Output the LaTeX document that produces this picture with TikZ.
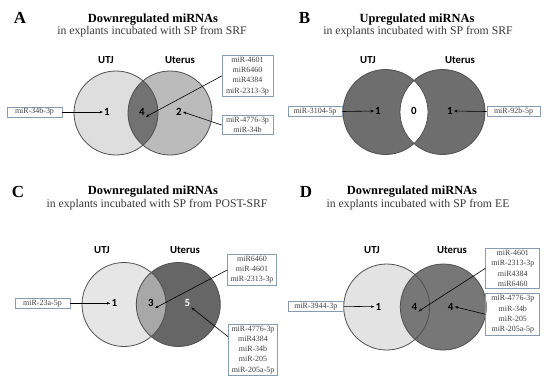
\documentclass[tikz,border=0pt]{standalone}
\usepackage{fontspec}
\setmainfont{Liberation Serif}
\newfontfamily\carlito{Carlito}
\usetikzlibrary{arrows.meta}
\definecolor{boxc}{HTML}{8A9BB0}
\definecolor{txtc}{HTML}{404040}
\definecolor{subc}{HTML}{3A3A3A}
\definecolor{circc}{HTML}{505050}
\definecolor{aL}{HTML}{DEDEDE}
\definecolor{aR}{HTML}{BBBBBB}
\definecolor{aM}{HTML}{727272}
\definecolor{bC}{HTML}{6E6E6E}
\definecolor{cL}{HTML}{E6E6E6}
\definecolor{cR}{HTML}{666666}
\definecolor{cM}{HTML}{A8A8A8}
\definecolor{dL}{HTML}{E3E3E3}
\definecolor{dR}{HTML}{777777}
\tikzset{
  lbl/.style={font=\carlito\bfseries\fontsize{10.8}{12}\selectfont, inner sep=0pt},
  num/.style={font=\carlito\bfseries\fontsize{11}{13}\selectfont, inner sep=1bp},
  mbox/.style={draw=boxc, line width=0.7bp, font=\fontsize{8}{10.2}\selectfont, text=txtc, align=center, inner xsep=3bp, inner ysep=2bp},
  sbox/.style={mbox, minimum width=55bp, minimum height=10bp, inner ysep=0.5bp},
  arr/.style={-{Stealth[length=3.5bp,width=2.6bp]}, line width=0.6bp},
  vc/.style={draw=circc, line width=0.8bp},
  ttl/.style={font=\bfseries\fontsize{12.5}{14}\selectfont, inner sep=0pt},
  subt/.style={font=\fontsize{11.8}{14}\selectfont, text=subc, inner sep=0pt},
  pl/.style={font=\bfseries\fontsize{17}{19}\selectfont, inner sep=0pt}
}
\begin{document}
\begin{tikzpicture}[x=1bp,y=-1bp]
\useasboundingbox[fill=white] (0,0) rectangle (550,380);

%% ---------------- Panel A ----------------
\node[pl] (pA) at (20,18) {A};
\node[ttl] (tA) at (153,20) {Downregulated miRNAs};
\node[subt] (sA) at (152,32) {in explants incubated with SP from SRF};
\node[lbl] (uA) at (106,60) {UTJ};
\node[lbl] (eA) at (180,60) {Uterus};
\fill[aL] (116,113) circle[radius=42];
\fill[aR] (170,113) circle[radius=42];
\begin{scope}
  \clip (116,113) circle[radius=42];
  \fill[aM] (170,113) circle[radius=42];
\end{scope}
\draw[vc] (116,113) circle[radius=42];
\draw[vc] (170,113) circle[radius=42];
\node[num] (a1) at (107,112) {1};
\node[num] (a4) at (142,112) {4};
\node[num] (a2) at (179,112) {2};
\node[sbox] (ab1) at (34.5,112) {miR-34b-3p};
\node[mbox, minimum width=51bp] (ab2) at (247.5,76) {miR-4601\\miR6460\\miR4384\\miR-2313-3p};
\node[mbox, minimum width=51bp] (ab3) at (247.5,125) {miR-4776-3p\\miR-34b};
\draw[arr] (ab1.east) -- (a1.west);
\draw[arr] (ab2.west) -- (a4.south east);
\draw[arr] (ab3.west) -- (a2.east);

%% ---------------- Panel B ----------------
\node[pl] (pB) at (304.5,18) {B};
\node[ttl] (tB) at (417,20) {Upregulated miRNAs};
\node[subt] (sB) at (418,32) {in explants incubated with SP from SRF};
\node[lbl] (uB) at (368,60) {UTJ};
\node[lbl] (eB) at (460,60) {Uterus};
\fill[bC] (385.5,112) circle[radius=42.5];
\fill[bC] (442.5,112) circle[radius=42.5];
\begin{scope}
  \clip (385.5,112) circle[radius=42.5];
  \fill[white] (442.5,112) circle[radius=42.5];
\end{scope}
\draw[vc] (385.5,112) circle[radius=42.5];
\draw[vc] (442.5,112) circle[radius=42.5];
\node[num] (b1) at (378,111) {1};
\node[num] (b0) at (414,111) {0};
\node[num] (b2) at (450,111) {1};
\node[sbox, minimum width=54bp] (bb1) at (315,111.5) {miR-3104-5p};
\node[sbox, minimum width=53bp] (bb2) at (513.5,111.5) {miR-92b-5p};
\draw[arr] (bb1.east) -- (b1.west);
\draw[arr] (bb2.west) -- (b2.east);

%% ---------------- Panel C ----------------
\node[pl] (pC) at (18,192) {C};
\node[ttl] (tC) at (153,192) {Downregulated miRNAs};
\node[subt] (sC) at (157,205) {in explants incubated with SP from POST-SRF};
\node[lbl] (uC) at (102,250) {UTJ};
\node[lbl] (eC) at (185,250) {Uterus};
\fill[cL] (124,304.5) circle[radius=42];
\fill[cR] (178.3,304.5) circle[radius=42];
\begin{scope}
  \clip (124,304.5) circle[radius=42];
  \fill[cM] (178.3,304.5) circle[radius=42];
\end{scope}
\draw[vc] (124,304.5) circle[radius=42];
\draw[vc] (178.3,304.5) circle[radius=42];
\node[num] (c1) at (114.3,303.3) {1};
\node[num] (c3) at (151,303.3) {3};
\node[num, text=white] (c5) at (187.3,302.7) {5};
\node[sbox] (cb1) at (42.5,303.3) {miR-23a-5p};
\node[mbox, minimum width=49bp] (cb2) at (252,270) {miR6460\\miR-4601\\miR-2313-3p};
\node[mbox, minimum width=48bp] (cb3) at (253,350) {miR-4776-3p\\miR4384\\miR-34b\\miR-205\\miR-205a-5p};
\draw[arr] (cb1.east) -- (c1.west);
\draw[arr] (cb2.west) -- (c3.south east);
\draw[arr] (cb3.152) -- (c5.south east);

%% ---------------- Panel D ----------------
\node[pl] (pD) at (306,192) {D};
\node[ttl] (tD) at (412,192) {Downregulated miRNAs};
\node[subt] (sD) at (418,205) {in explants incubated with SP from EE};
\node[lbl] (uD) at (372,250) {UTJ};
\node[lbl] (eD) at (452,250) {Uterus};
\fill[dL] (386.7,307) circle[radius=43];
\fill[dR] (443.3,307) circle[radius=43];
\draw[vc] (386.7,307) circle[radius=43];
\draw[vc] (443.3,307) circle[radius=43];
\node[num] (d1) at (378.3,306.7) {1};
\node[num] (d4) at (414.3,306.7) {4};
\node[num] (d2) at (450.7,306.7) {4};
\node[sbox] (db1) at (315.8,306.3) {miR-3944-3p};
\node[mbox, minimum width=54bp] (db2) at (512.8,268.3) {miR-4601\\miR-2313-3p\\miR4384\\miR6460};
\node[mbox, minimum width=54bp] (db3) at (512.8,314.3) {miR-4776-3p\\miR-34b\\miR-205\\miR-205a-5p};
\draw[arr] (db1.east) -- (d1.west);
\draw[arr] (db2.west) -- (d4.south east);
\draw[arr] (db3.west) -- (d2.east);
\end{tikzpicture}
\end{document}
